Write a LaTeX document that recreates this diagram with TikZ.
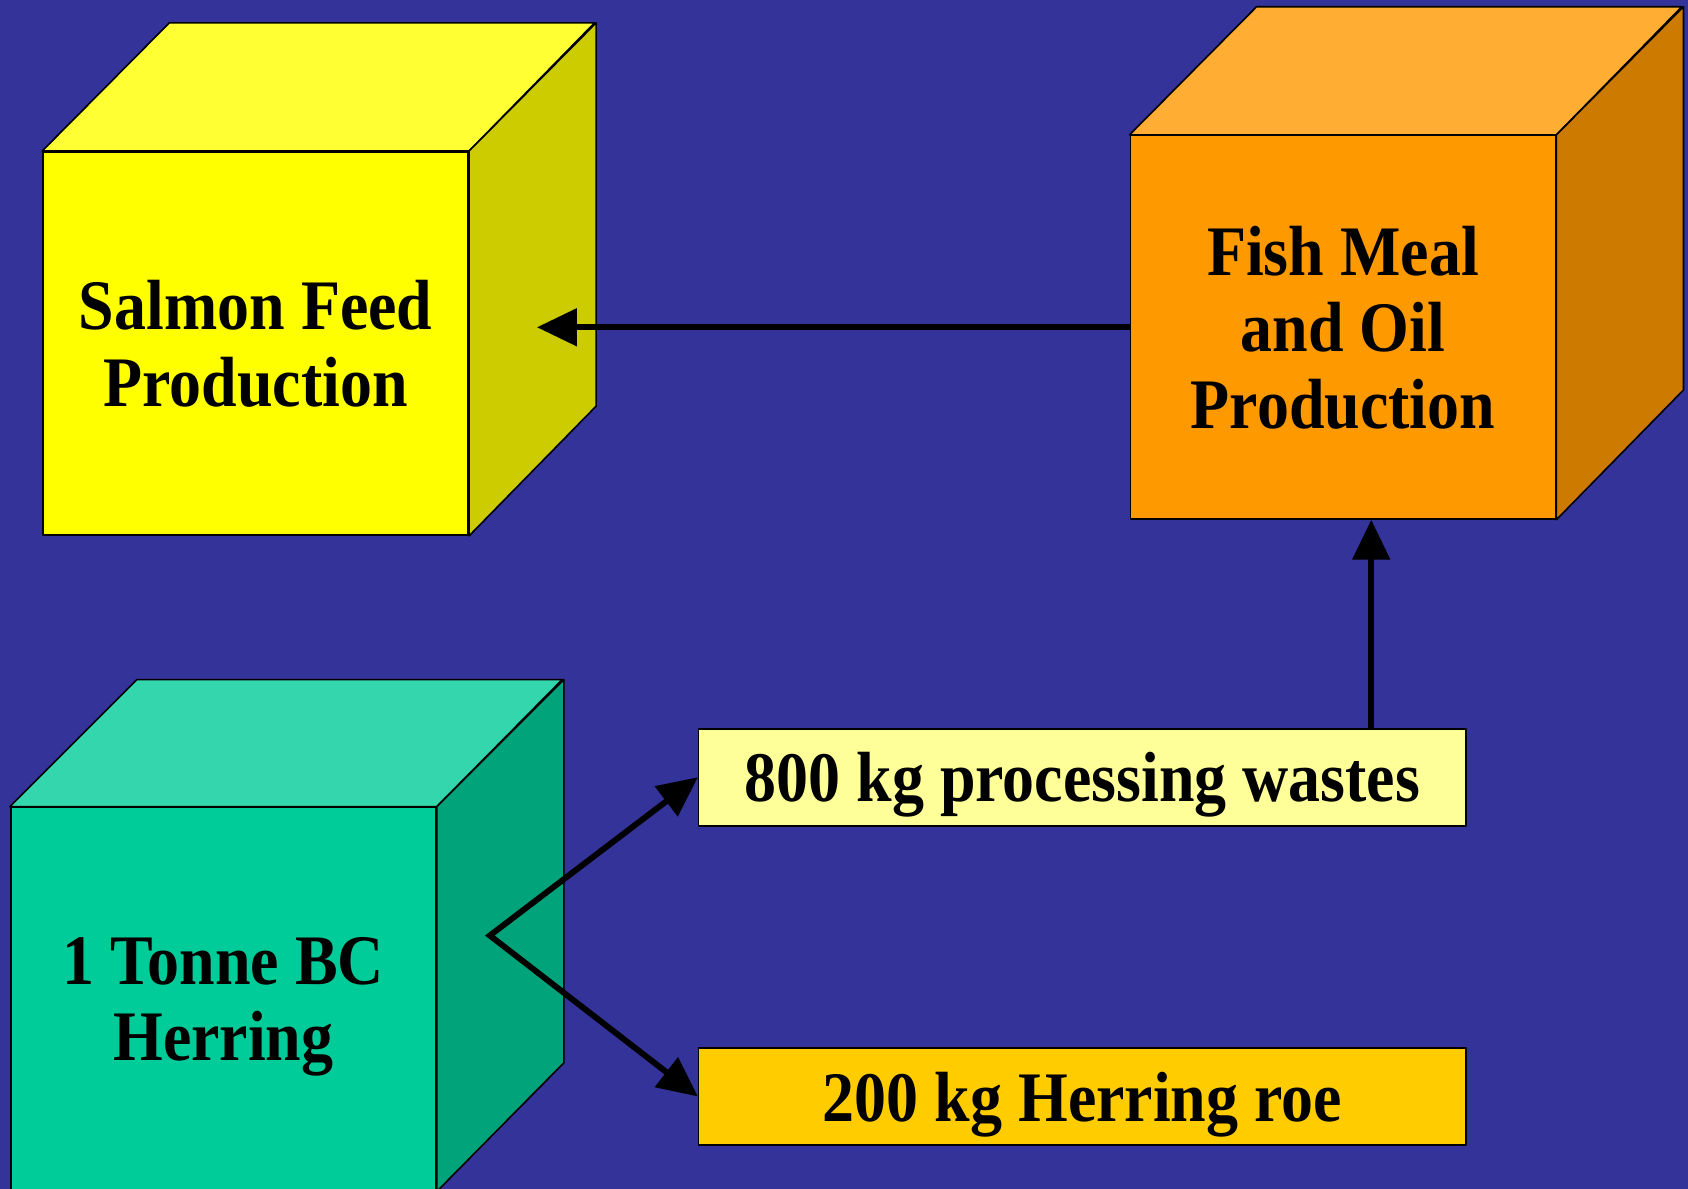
\documentclass[tikz,border=0pt]{standalone}
\usepackage{fontspec}
\setmainfont{Liberation Serif}[FakeStretch=0.9]
\usetikzlibrary{arrows.meta}
\definecolor{bg}{HTML}{333399}
\definecolor{salfront}{HTML}{FFFF00}
\definecolor{saltop}{HTML}{FFFF33}
\definecolor{salside}{HTML}{CCCC00}
\definecolor{fishfront}{HTML}{FF9900}
\definecolor{fishtop}{HTML}{FFAD33}
\definecolor{fishside}{HTML}{CC7A00}
\definecolor{herfront}{HTML}{00CC99}
\definecolor{hertop}{HTML}{33D6AD}
\definecolor{herside}{HTML}{00A37A}
\definecolor{wastefill}{HTML}{FFFF99}
\definecolor{roefill}{HTML}{FFCC00}
\begin{document}
\begin{tikzpicture}[x=1pt,y=-1pt,
  face/.style={draw=black,line width=1.5pt,line join=round,inner sep=0pt,align=center,
    text depth=0pt,font=\bfseries\fontsize{66}{71}\selectfont},
  cubeface/.style={face,minimum width=395pt,minimum height=356pt},
  tag/.style={face,minimum width=713pt,minimum height=90pt},
  edge/.style={draw=black,line width=1.5pt,line join=round},
  flow/.style={line width=5.5pt,-{Triangle[length=37pt,width=34pt]}}]
\fill[bg] (0,0) rectangle (1568,1104);
\useasboundingbox (0,0) rectangle (1568,1104);

% cube fronts
\node[cubeface,fill=salfront] (salmon) at (237.5,319) {Salmon Feed\\Production};
\node[cubeface,fill=fishfront] (fish) at (1247.5,304) {Fish Meal\\and Oil\\Production};
\node[cubeface,fill=herfront] (herring) at (207.5,928) {1 Tonne BC\\Herring};

% cube tops and sides
\filldraw[edge,fill=saltop] (salmon.north west) -- ++(118,-119) -- ++(395,0) -- (salmon.north east) -- cycle;
\filldraw[edge,fill=salside] (salmon.north east) -- ++(118,-119) -- ++(0,356) -- (salmon.south east) -- cycle;
\filldraw[edge,fill=fishtop] (fish.north west) -- ++(118,-119) -- ++(395,0) -- (fish.north east) -- cycle;
\filldraw[edge,fill=fishside] (fish.north east) -- ++(118,-119) -- ++(0,356) -- (fish.south east) -- cycle;
\filldraw[edge,fill=hertop] (herring.north west) -- ++(118,-118) -- ++(395,0) -- (herring.north east) -- cycle;
\filldraw[edge,fill=herside] (herring.north east) -- ++(118,-118) -- ++(0,356) -- (herring.south east) -- cycle;

% output boxes
\node[tag,fill=wastefill] (waste) at (1005.5,722) {800 kg processing wastes};
\node[tag,fill=roefill] (roe) at (1005.5,1018.5) {200 kg Herring roe};

% connectors
\coordinate (split) at (455,869);
\draw[flow] (fish.west) -- ([xshift=63pt]salmon.east |- fish.west);
\draw[flow] ([xshift=-89pt]waste.north east) -- ([xshift=-89pt]waste.north east |- fish.south);
\draw[line width=5.5pt,{Triangle[length=37pt,width=34pt]}-{Triangle[length=37pt,width=34pt]}]
  (waste.west) -- (split) -- (roe.west);
\end{tikzpicture}
\end{document}
